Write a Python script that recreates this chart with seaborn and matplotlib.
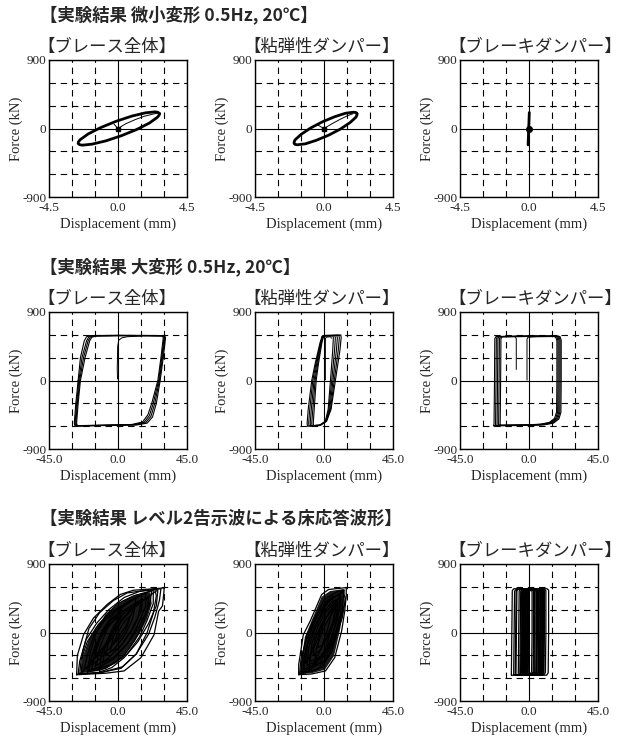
import numpy as np
import pandas as pd
import seaborn as sns
import matplotlib.pyplot as plt

sns.set_style('white')
plt.rcParams['font.family'] = ['Liberation Serif', 'Noto Sans CJK JP']
plt.rcParams['axes.unicode_minus'] = False

W, H = 622, 737

# ---------------- labels ----------------
row_titles = ['【実験結果 微小変形 0.5Hz, 20℃】',
              '【実験結果 大変形 0.5Hz, 20℃】',
              '【実験結果 レベル2告示波による床応答波形】']
panel_titles = ['【ブレース全体】', '【粘弾性ダンパー】', '【ブレーキダンパー】']
x_limits = [4.5, 45.0, 45.0]
x_ticklabels = [['-4.5', '0.0', '4.5'], ['-45.0', '0.0', '45.0'], ['-45.0', '0.0', '45.0']]
y_ticks = [-900, 0, 900]
y_ticklabels = ['-900', '0', '900']

# ---------------- row 1 : small amplitude (mm, kN) ----------------
s_brace_loop = [(2.70, 197), (2.61, 212), (2.43, 219), (1.80, 206), (0.90, 163), (-0.12, 95),
                (-1.13, 12), (-1.95, -72), (-2.46, -146), (-2.58, -175), (-2.60, -197),
                (-2.51, -212), (-2.33, -219), (-1.70, -206), (-0.80, -163), (0.22, -95),
                (1.23, -12), (2.05, 72), (2.56, 146), (2.68, 175), (2.70, 197)]
s_brace_init = [(-0.25, 55), (0.0, 0), (0.5, 62), (1.1, 115), (1.7, 160), (2.3, 190), (2.65, 205)]

s_ve_loop = [(2.15, 197), (2.08, 210), (1.92, 214), (1.41, 201), (0.70, 155), (-0.11, 87),
             (-0.88, 6), (-1.50, -78), (-1.88, -148), (-1.95, -176), (-1.95, -197),
             (-1.88, -210), (-1.72, -214), (-1.21, -201), (-0.50, -155), (0.31, -87),
             (1.08, -6), (1.70, 78), (2.08, 148), (2.15, 176), (2.15, 197)]
s_ve_init = [(-0.45, 50), (0.0, 0), (0.5, 60), (1.0, 115), (1.5, 165), (1.9, 195)]

s_brake_line = [(-0.06, -215), (-0.02, 0), (0.02, 210)]

# ---------------- row 2 : large amplitude ----------------
l_brace_loops = [
    [(-26, 0), (-24.5, 300), (-22, 520), (-20.5, 575), (-18, 590), (0, 594), (20, 592), (30.5, 590),
     (31, 560), (29.5, 300), (27.5, 0), (25, -300), (22.5, -480), (19, -560), (12, -585),
     (-10, -592), (-28, -600), (-28.5, -560), (-27.5, -300), (-26, 0)],
    [(-25.5, 0), (-23.5, 300), (-20.5, 520), (-19, 575), (-16, 588), (0, 592), (20, 590), (30, 588),
     (30.5, 560), (29, 300), (27, 0), (24, -300), (21.5, -470), (18, -555), (11, -582),
     (-10, -590), (-27.5, -597), (-28, -560), (-27, -300), (-25.5, 0)],
    [(-25, 0), (-22.5, 300), (-19.5, 520), (-18, 572), (-15, 586), (0, 590), (20, 588), (29.5, 586),
     (30, 560), (28.5, 300), (26.5, 0), (23, -300), (20.5, -460), (17, -550), (10, -580),
     (-10, -588), (-27, -595), (-27.5, -560), (-26.5, -300), (-25, 0)],
    [(-24.5, 0), (-21.5, 300), (-18.5, 520), (-17, 570), (-14, 584), (0, 588), (20, 587), (29, 585),
     (29.5, 560), (28, 300), (26, 0), (22, -300), (19.5, -450), (16, -545), (9, -578),
     (-10, -587), (-26.5, -593), (-27, -560), (-26, -300), (-24.5, 0)],
]
l_brace_init = [(-0.3, 20), (-0.5, 150), (-0.2, 450), (0.5, 530), (2.5, 560), (6, 575), (15, 585)]

l_ve_loops = [
    [(-1.2, 582), (0, 592), (11, 598), (11.2, 560), (10.4, 400), (7.2, -30), (4.6, -380), (1.7, -535),
     (-2.6, -592), (-10.8, -600), (-11, -560), (-10.3, -380), (-8, 0), (-5.9, 210), (-2.6, 495), (-1.2, 582)],
    [(-1, 580), (0.5, 590), (9.7, 595), (10, 560), (9.3, 400), (6.5, -30), (4.2, -380), (1.5, -535),
     (-2.6, -590), (-9.8, -598), (-10, -560), (-9.3, -380), (-7.3, 0), (-5.4, 210), (-2.3, 495), (-1, 580)],
    [(-0.8, 578), (0.5, 588), (8.4, 592), (8.7, 560), (8.1, 400), (5.7, -30), (3.7, -380), (1.3, -535),
     (-2.6, -588), (-8.8, -596), (-9, -560), (-8.3, -380), (-6.5, 0), (-4.8, 210), (-2, 495), (-0.8, 578)],
    [(-0.6, 576), (0.5, 586), (7.1, 590), (7.4, 560), (6.9, 400), (4.9, -30), (3.2, -380), (1.1, -535),
     (-2.6, -586), (-7.8, -594), (-8, -560), (-7.3, -380), (-5.8, 0), (-4.2, 210), (-1.7, 495), (-0.6, 576)],
    [(-0.4, 574), (0.5, 584), (5.8, 588), (6.1, 560), (5.7, 400), (4.1, -30), (2.7, -380), (0.9, -535),
     (-2.6, -584), (-6.8, -592), (-7, -560), (-6.4, -380), (-5.1, 0), (-3.7, 210), (-1.4, 495), (-0.4, 574)],
]
l_ve_init = [(0.9, 10), (0.9, 550), (1.5, 570), (4.5, 575), (4.8, 555)]

l_brake_loops = [
    [(-23, -595), (-22.8, -560), (-22.5, 0), (-22.3, 550), (-21.5, 578), (0, 585), (19, 585), (20.3, 575),
     (21, 530), (21, 0), (20.8, -420), (19.5, -505), (16, -560), (10, -582), (0, -590), (-23, -595)],
    [(-22, -593), (-21.8, -560), (-21.5, 0), (-21.3, 550), (-20.5, 577), (0, 583), (18.3, 583), (19.6, 573),
     (20.3, 528), (20.3, 0), (20.1, -418), (18.8, -503), (15.3, -558), (9.3, -580), (0, -588), (-22, -593)],
    [(-21, -591), (-20.8, -560), (-20.5, 0), (-20.3, 550), (-19.5, 576), (0, 582), (17.6, 582), (18.9, 572),
     (19.6, 526), (19.6, 0), (19.4, -416), (18.1, -501), (14.6, -556), (8.6, -578), (0, -586), (-21, -591)],
    [(-20, -589), (-19.8, -560), (-19.5, 0), (-19.3, 550), (-18.5, 575), (0, 580), (16.9, 580), (18.2, 570),
     (18.9, 524), (18.9, 0), (18.7, -414), (17.4, -499), (13.9, -554), (7.9, -576), (0, -584), (-20, -589)],
    [(-19, -587), (-18.8, -560), (-18.5, 0), (-18.3, 550), (-17.5, 574), (0, 578), (16.2, 578), (17.5, 568),
     (18.2, 522), (18.2, 0), (18, -412), (16.7, -497), (13.2, -552), (7.2, -574), (0, -582), (-19, -587)],
]
l_brake_init = [(-1.3, 5), (-1.3, 545), (-0.6, 568), (5, 575), (17, 578)]
l_brake_spike = [(-8.3, 145), (-8.3, 550), (-9, 570)]

# ---------------- row 3 : level-2 floor response ----------------
e_brace_loops = [
    [(-27, -555), (-26.5, -300), (-22.5, -30), (-16, 190), (-7, 370), (1.5, 500), (10, 555), (30, 585),
     (30, 540), (29, 350), (26.5, 280), (23.5, -30), (15, -330), (4, -505), (-8, -535), (-27, -555)],
    [(-24, -540), (-23, -250), (-19, 50), (-12, 260), (-3, 420), (6, 520), (24, 570), (25, 480), (23, 250),
     (19, 0), (12, -280), (3, -450), (-10, -520), (-24, -540)],
    [(-20, -520), (-18, -260), (-14, 20), (-8, 230), (0, 380), (10, 480), (22, 550), (21, 400), (17, 150),
     (11, -100), (3, -330), (-8, -470), (-20, -520)],
    [(-17, -480), (-15, -250), (-10, 30), (-3, 250), (6, 400), (18, 520), (18, 350), (13, 100), (6, -150),
     (-3, -350), (-12, -450), (-17, -480)],
    [(-14, -430), (-12, -200), (-7, 50), (0, 230), (9, 360), (16, 440), (15, 280), (10, 60), (2, -170),
     (-7, -350), (-14, -430)],
    [(-22, -480), (-20, -300), (-16, -50), (-9, 150), (-1, 300), (8, 420), (12, 460), (10, 300), (5, 80),
     (-3, -150), (-12, -350), (-22, -480)],
    [(-10, -400), (-8, -150), (-3, 80), (4, 260), (12, 380), (20, 460), (19, 300), (14, 80), (6, -150),
     (-3, -330), (-10, -400)],
    [(-8, -300), (-6, -100), (-1, 100), (6, 250), (11, 320), (9, 150), (4, -50), (-3, -230), (-8, -300)],
    [(-18, -400), (-15, -180), (-10, 20), (-4, 170), (2, 260), (1, 100), (-4, -80), (-11, -260), (-18, -400)],
    [(-5, -250), (-3, -50), (2, 150), (8, 300), (15, 400), (13, 200), (8, 0), (1, -200), (-5, -250)],
    [(-12, -520), (-11, -300), (-6, -80), (1, 120), (9, 300), (17, 430), (26, 560), (25, 350), (20, 120),
     (13, -120), (4, -330), (-4, -460), (-12, -520)],
    [(-25, -550), (-24, -350), (-20, -120), (-13, 100), (-5, 260), (2, 350), (0, 150), (-5, -50),
     (-12, -260), (-20, -450), (-25, -550)],
    [(-3, -150), (0, 0), (4, 140), (8, 220), (6, 80), (2, -60), (-3, -150)],
    [(-15, -300), (-12, -100), (-6, 100), (0, 200), (-2, 50), (-7, -150), (-15, -300)],
    [(-26, -545), (-25, -380), (-21, -100), (-14, 120), (-6, 300), (4, 460), (14, 540), (28, 575),
     (27, 420), (24, 200), (20, -20), (12, -280), (2, -470), (-12, -530), (-26, -545)],
    [(-19, -500), (-17, -300), (-12, -60), (-5, 160), (3, 330), (13, 470), (23, 560), (23, 380), (19, 160),
     (14, -60), (6, -280), (-5, -430), (-19, -500)],
]
# the densely inked core of the tangle
e_brace_core = [(-24, -535), (-23, -320), (-19, -90), (-13, 110), (-5, 290), (3, 420), (12, 500),
                (21, 530), (22, 380), (19, 180), (14, -20), (7, -230), (-1, -400), (-11, -500), (-24, -535)]

e_ve_loops = [
    [(-16.5, -555), (-16.5, -420), (-13.5, -30), (-9, 150), (-1.5, 500), (3, 565), (14.5, 590), (14.5, 480),
     (13.5, 280), (11.5, 20), (7, -330), (1, -505), (-8, -545), (-16.5, -555)],
    [(-15, -520), (-14, -300), (-11, -30), (-6, 200), (0, 430), (8, 530), (13, 560), (12, 300), (9, 50),
     (5, -250), (-1, -450), (-8, -510), (-15, -520)],
    [(-13, -480), (-12, -250), (-9, 0), (-4, 220), (2, 400), (10, 500), (10, 300), (7, 80), (3, -200),
     (-3, -400), (-13, -480)],
    [(-11, -430), (-10, -200), (-6, 50), (-1, 250), (5, 400), (8, 430), (7, 200), (4, -20), (0, -250),
     (-5, -380), (-11, -430)],
    [(-16, -550), (-15, -350), (-12, -120), (-8, 80), (-3, 280), (2, 420), (6, 480), (5, 250), (2, 20),
     (-2, -220), (-8, -450), (-16, -550)],
    [(-9, -380), (-8, -150), (-4, 80), (1, 260), (6, 380), (11, 470), (11, 250), (8, 40), (3, -200),
     (-3, -330), (-9, -380)],
    [(-7, -300), (-6, -100), (-2, 100), (3, 250), (7, 320), (6, 150), (2, -50), (-2, -220), (-7, -300)],
    [(-14, -540), (-13, -330), (-10, -100), (-5, 120), (0, 320), (5, 450), (12, 540), (14, 450), (12, 200),
     (8, -50), (3, -300), (-4, -480), (-14, -540)],
    [(-12, -400), (-11, -180), (-7, 30), (-3, 180), (1, 300), (0, 120), (-4, -80), (-8, -260), (-12, -400)],
    [(-4, -200), (-3, 0), (1, 180), (5, 300), (9, 400), (8, 200), (4, 0), (0, -150), (-4, -200)],
    [(-10, -500), (-9, -300), (-5, -60), (0, 150), (6, 350), (13, 560), (13, 350), (10, 100), (5, -150),
     (0, -370), (-10, -500)],
    [(-6, -420), (-5, -200), (-1, 20), (4, 220), (9, 380), (9, 180), (5, -50), (0, -280), (-6, -420)],
]
e_ve_core = [(-15.5, -545), (-15, -400), (-12.5, -60), (-8, 160), (-1.5, 470), (4, 545), (12.5, 570),
             (12.5, 300), (10.5, 40), (6.5, -310), (0.5, -490), (-8, -535), (-15.5, -545)]

# brake damper under level-2 wave: near-rectangular loops (left edge, right edge, top, bottom)
e_brake_left = [-11.5, -10.0, -8.5, -7.0, -6.0, -5.0, -4.0, -3.5, -2.5, -1.5, -5.5, -9.0, -4.5, -3.0,
                -4.8, -4.2, -3.8, -3.2, -2.8, -2.2, -1.8, -1.2, -0.8, -0.5]
e_brake_right = [12.8, 5.0, 9.0, 11.0, 6.5, 8.0, 4.0, 10.0, 7.0, 3.0, 2.0, 7.5, 9.5, 5.5,
                 9.8, 8.5, 7.5, 6.2, 9.2, 4.8, 8.8, 5.2, 7.8, 3.5]
e_brake_top = [575, 568, 572, 570, 566, 572, 565, 570, 568, 562, 560, 566, 570, 565,
               570, 568, 566, 564, 570, 562, 568, 562, 566, 560]
e_brake_bottom = [-561, -556, -558, -556, -552, -556, -550, -555, -553, -548, -546, -554, -556, -550,
                  -556, -554, -552, -550, -556, -548, -554, -548, -552, -546]


def rect_loop(left, right, top, bottom):
    return [(left, bottom), (left + 0.3, 0), (left + 0.6, top - 25), (left + 1.6, top),
            (right - 1.0, top), (right, top - 20), (right, 0), (right - 0.3, bottom + 30),
            (right - 1.3, bottom), (left, bottom)]


e_brake_loops = [rect_loop(l, r, t, b) for l, r, t, b in
                 zip(e_brake_left, e_brake_right, e_brake_top, e_brake_bottom)]

# (loops, linewidth) per panel
panels = [
    [[([s_brace_loop], 2.0), ([s_brace_init], 0.7)],
     [([s_ve_loop], 2.0), ([s_ve_init], 0.7)],
     [([s_brake_line], 2.0)]],
    [[(l_brace_loops, 0.8), ([l_brace_init], 0.7)],
     [(l_ve_loops, 0.8), ([l_ve_init], 0.7)],
     [(l_brake_loops, 0.8), ([l_brake_init, l_brake_spike], 0.7)]],
    [[(e_brace_loops, 0.9)],
     [(e_ve_loops, 0.9)],
     [(e_brake_loops, 0.9)]],
]
cores = [[None, None, None], [None, None, None], [e_brace_core, e_ve_core, None]]

# ---------------- layout (pixels) ----------------
col_left = [49, 255, 460]
row_top = [60, 312, 564]
ax_w, ax_h = 138, 137
title_y = [15, 267, 519]

fig = plt.figure(figsize=(W / 100, H / 100), dpi=100)


def draw_loops(ax, loops, lw):
    rec = []
    for i, loop in enumerate(loops):
        for j, (x, y) in enumerate(loop):
            rec.append((i, j, x, y))
    df = pd.DataFrame(rec, columns=['loop', 'order', 'x', 'y'])
    sns.lineplot(data=df, x='x', y='y', units='loop', estimator=None, sort=False,
                 color='black', linewidth=lw, ax=ax, legend=False, zorder=3)


for r in range(3):
    fig.text(40 / W, 1 - title_y[r] / H, row_titles[r], ha='left', va='center',
             fontsize=12.5, fontweight='bold', family=['Noto Sans CJK JP', 'DejaVu Sans'])
    xl = x_limits[r]
    for c in range(3):
        ax = fig.add_axes([col_left[c] / W, 1 - (row_top[r] + ax_h) / H, ax_w / W, ax_h / H])
        if cores[r][c] is not None:
            cx, cy = zip(*cores[r][c])
            ax.fill(cx, cy, color='black', alpha=0.9, lw=0, zorder=2)
        for loops, lw in panels[r][c]:
            draw_loops(ax, loops, lw)
        if r == 0 and c < 2:
            ax.plot([0], [0], 's', color='black', ms=3.5, zorder=4)
        if r == 0 and c == 2:
            ax.plot([0], [0], 'o', color='black', ms=4, zorder=4)

        ax.set_xlim(-xl, xl)
        ax.set_ylim(-900, 900)
        ax.set_xticks([-xl, 0, xl])
        ax.set_xticklabels(x_ticklabels[r])
        ax.set_yticks(y_ticks)
        ax.set_yticklabels(y_ticklabels)
        ax.set_xticks([-2 * xl / 3, -xl / 3, xl / 3, 2 * xl / 3], minor=True)
        ax.set_yticks([-600, -300, 300, 600], minor=True)
        ax.grid(which='minor', color='black', linestyle=(0, (5.8, 4.3)), linewidth=0.8)
        ax.grid(which='major', color='black', linestyle='-', linewidth=0.8)
        ax.set_axisbelow(True)
        ax.tick_params(which='both', length=0)
        ax.tick_params(axis='x', pad=3.5, labelsize=9.5)
        ax.tick_params(axis='y', pad=2, labelsize=9.5)
        for s in ax.spines.values():
            s.set_color('black')
            s.set_linewidth(1.0)

        ax.set_xlabel('Displacement (mm)', fontsize=10.5)
        ax.set_ylabel('Force (kN)', fontsize=10.5)
        ax.xaxis.set_label_coords(0.5, -0.15)
        ax.yaxis.set_label_coords(-0.19, 0.5)

        ax.text(-12 / ax_w, 1 + 13 / ax_h, panel_titles[c], transform=ax.transAxes,
                ha='left', va='center', fontsize=12.5, family=['Noto Sans CJK JP', 'DejaVu Sans'])

fig.savefig('out.png', dpi=100)
